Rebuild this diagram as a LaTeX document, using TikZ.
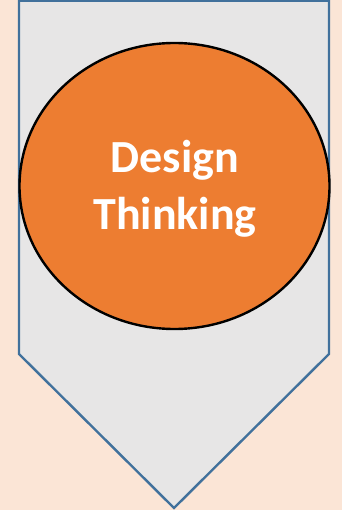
\documentclass[tikz,border=0pt]{standalone}
\usepackage{fontspec}
\setmainfont{Carlito}
\definecolor{bgpeach}{HTML}{FBE5D6}
\definecolor{shapegray}{HTML}{E7E6E6}
\definecolor{edgeblue}{HTML}{41719C}
\definecolor{circorange}{HTML}{ED7D31}
\tikzset{
  chevron/.style={fill=shapegray, draw=edgeblue, line width=2.4pt, line join=miter},
  bubble/.style={fill=circorange, draw=black, line width=2.4pt},
  label/.style={text=white, font=\bfseries\fontsize{46}{57}\selectfont, align=center}
}
\begin{document}
\begin{tikzpicture}[x=1pt,y=-1pt]
\fill[bgpeach] (0,0) rectangle (342,510);
\useasboundingbox (0,0) rectangle (342,510);
\draw[chevron] (19,0.8) -- (329,0.8) -- (329,354) -- (174,508) -- (19,354) -- cycle;
\draw[bubble] (174.5,186) ellipse [x radius=155, y radius=143];
\node[label] (title) at (175,189) {Design\\Thinking};
\end{tikzpicture}
\end{document}
